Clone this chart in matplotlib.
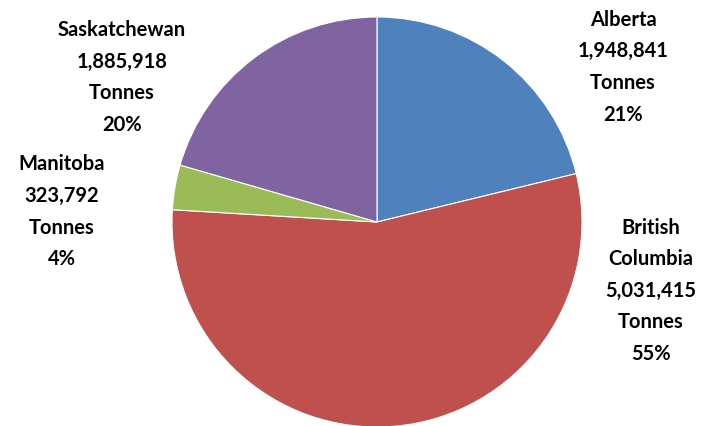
import matplotlib
matplotlib.use('Agg')
import matplotlib.pyplot as plt

# Tonnes by province
provinces = ['Alberta', 'British\nColumbia', 'Manitoba', 'Saskatchewan']
tonnes = [1948841, 5031415, 323792, 1885918]
percents = ['21%', '55%', '4%', '20%']
colors = ['#4f81bd', '#c0504d', '#9bbb59', '#8064a2']

# label anchor points (pie radius = 1)
label_xy = [(1.20, 0.755), (1.335, -0.335), (-1.537, 0.05), (-1.244, 0.705)]

fig = plt.figure(figsize=(7.16, 4.26), dpi=100)
fig.set_facecolor('white')
ax = fig.add_axes([172 / 716, -1 / 426, 410 / 716, 410 / 426])

ax.pie(tonnes, colors=colors, startangle=90, counterclock=False, radius=1,
       wedgeprops={'linewidth': 0.8, 'edgecolor': 'white'})
ax.set_xlim(-1, 1)
ax.set_ylim(-1, 1)
ax.set_aspect('equal')
ax.axis('off')

for name, val, pct, (x, y) in zip(provinces, tonnes, percents, label_xy):
    txt = f'{name}\n{val:,}\nTonnes\n{pct}'
    ax.text(x, y, txt, ha='center', va='center', fontsize=14.5,
            fontweight='bold', family='Lato', linespacing=1.72,
            color='black', clip_on=False)

fig.savefig('out.png', dpi=100)
